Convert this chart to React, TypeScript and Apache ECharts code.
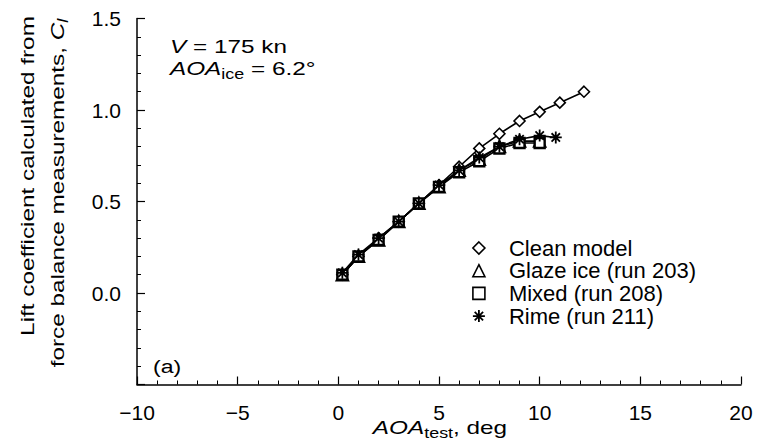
import React, { useEffect, useRef } from "react";
import * as echarts from "echarts";

const seriesNames = ["Clean model", "Glaze ice (run 203)", "Mixed (run 208)", "Rime (run 211)"];
const cleanX = [0.2, 1, 2, 3, 4, 5, 6, 7, 8, 9, 10, 11, 12.2];
const cleanY = [0.1, 0.2, 0.3, 0.39, 0.49, 0.59, 0.69, 0.79, 0.87, 0.94, 0.99, 1.04, 1.1];
const glazeX = [0.2, 1, 2, 3, 4, 5, 6, 7, 8, 9, 10];
const glazeY = [0.1, 0.2, 0.29, 0.39, 0.49, 0.58, 0.67, 0.73, 0.8, 0.83, 0.83];
const mixedX = [0.2, 1, 2, 3, 4, 5, 6, 7, 8, 9, 10];
const mixedY = [0.1, 0.2, 0.29, 0.39, 0.49, 0.58, 0.66, 0.72, 0.79, 0.82, 0.82];
const rimeX = [0.2, 1, 2, 3, 4, 5, 6, 7, 8, 9, 10, 10.8];
const rimeY = [0.11, 0.21, 0.3, 0.39, 0.49, 0.59, 0.67, 0.74, 0.8, 0.84, 0.86, 0.85];

const FONT = '"Liberation Sans", Arial, Helvetica, sans-serif';
const ASTERISK = "path://M6,0L6,12M0,6L12,6M1.8,1.8L10.2,10.2M1.8,10.2L10.2,1.8";
const SX = 1.28;

const pairs = (xs: number[], ys: number[]) => xs.map((x, i) => [x, ys[i]]);

export default function App() {
  const ref = useRef<HTMLDivElement>(null);
  useEffect(() => {
    const chart = echarts.init(ref.current!, null, { renderer: "svg" });
    const open = { color: "#fff", borderColor: "#000", borderWidth: 1.6 };
    const openIce = { color: "#fff", borderColor: "#000", borderWidth: 2.4 };
    const star = { color: "#000", borderColor: "#000", borderWidth: 1.8 };
    const line = { color: "#000", width: 1.6 };
    const mkSeries = (name: string, xs: number[], ys: number[], symbol: string, size: number, z: number, style: any) => ({
      type: "line",
      name,
      data: pairs(xs, ys),
      symbol,
      symbolSize: size,
      itemStyle: style,
      lineStyle: line,
      z,
      emphasis: { disabled: true },
    });
    const rich = (fs: number) => ({
      n: { fontSize: fs, fontFamily: FONT, lineHeight: 22, fill: "#000" },
      i: { fontSize: fs, fontFamily: FONT, fontStyle: "italic", lineHeight: 22, fill: "#000" },
      s: { fontSize: Math.round(fs * 0.72), fontFamily: FONT, lineHeight: 22, padding: [11, 0, 0, 0], fill: "#000" },
      si: { fontSize: Math.round(fs * 0.72), fontFamily: FONT, fontStyle: "italic", lineHeight: 22, padding: [11, 0, 0, 0], fill: "#000" },
    });
    const option: any = {
      animation: false,
      grid: { left: 137, top: 18.5, right: 17, bottom: 57.5 },
      xAxis: {
        type: "value",
        min: -10,
        max: 20,
        interval: 5,
        axisLine: { onZero: false, lineStyle: { color: "#000", width: 1.5 } },
        axisTick: { inside: true, length: 8, lineStyle: { color: "#000", width: 1.2 } },
        minorTick: { show: true, splitNumber: 5, length: 4, lineStyle: { color: "#000", width: 1 } },
        splitLine: { show: false },
        axisLabel: {
          fontSize: 21,
          fontFamily: FONT,
          color: "#000",
          margin: 17,
          formatter: (v: number) => String(v).replace("-", "\u2212"),
        },
      },
      yAxis: {
        type: "value",
        min: -0.5,
        max: 1.5,
        interval: 0.5,
        axisLine: { show: true, onZero: false, lineStyle: { color: "#000", width: 1.5 } },
        axisTick: { show: true, inside: true, length: 8, lineStyle: { color: "#000", width: 1.2 } },
        minorTick: { show: true, splitNumber: 5, length: 4, lineStyle: { color: "#000", width: 1 } },
        splitLine: { show: false },
        axisLabel: {
          fontSize: 21,
          fontFamily: FONT,
          color: "#000",
          margin: 16,
          formatter: (v: number) => (v < -0.01 ? "" : v.toFixed(1)),
        },
      },
      legend: {
        orient: "vertical",
        left: 467,
        top: 232,
        itemWidth: 12,
        itemHeight: 12,
        itemGap: 0.7,
        selectedMode: false,
        textStyle: { fontSize: 22, lineHeight: 20, fontFamily: FONT, color: "#000", padding: [0, 0, 0, 19] },
        data: [
          { name: seriesNames[0], icon: "diamond", itemStyle: open },
          { name: seriesNames[1], icon: "triangle", itemStyle: open },
          { name: seriesNames[2], icon: "rect", itemStyle: open },
          { name: seriesNames[3], icon: ASTERISK, itemStyle: star },
        ],
      },
      series: [
        mkSeries(seriesNames[0], cleanX, cleanY, "diamond", 11, 2, open),
        mkSeries(seriesNames[1], glazeX, glazeY, "triangle", 11, 3, openIce),
        mkSeries(seriesNames[2], mixedX, mixedY, "rect", 10, 4, openIce),
        mkSeries(seriesNames[3], rimeX, rimeY, ASTERISK, 12, 5, star),
      ],
      graphic: [
        {
          type: "text",
          x: 27,
          y: 176,
          rotation: Math.PI / 2,
          scaleX: SX,
          style: {
            text: "Lift coefficient calculated from",
            fontSize: 19,
            fontFamily: FONT,
            fill: "#000",
            align: "center",
            verticalAlign: "middle",
          },
        },
        {
          type: "text",
          x: 57,
          y: 193,
          rotation: Math.PI / 2,
          scaleX: SX,
          style: {
            text: "{n|force balance measurements, }{i|C}{si|l}",
            fill: "#000",
            align: "center",
            verticalAlign: "middle",
            rich: rich(19),
          },
        },
        {
          type: "text",
          x: 170,
          y: 46,
          scaleX: SX,
          style: {
            text: "{i|V}{n| = 175 kn}",
            fill: "#000",
            align: "left",
            verticalAlign: "middle",
            rich: rich(19),
          },
        },
        {
          type: "text",
          x: 170,
          y: 68,
          scaleX: SX,
          style: {
            text: "{i|AOA}{s|ice}{n| = 6.2\u00b0}",
            fill: "#000",
            align: "left",
            verticalAlign: "middle",
            rich: rich(19),
          },
        },
        {
          type: "text",
          x: 153,
          y: 366,
          scaleX: SX,
          style: {
            text: "(a)",
            fontSize: 18,
            fontFamily: FONT,
            fill: "#000",
            align: "left",
            verticalAlign: "middle",
          },
        },
        {
          type: "text",
          x: 440,
          y: 427,
          scaleX: SX,
          style: {
            text: "{i|AOA}{s|test}{n|, deg}",
            fill: "#000",
            align: "center",
            verticalAlign: "middle",
            rich: rich(19),
          },
        },
      ],
    };
    chart.setOption(option);
    return () => chart.dispose();
  }, []);
  return <div ref={ref} style={{ position: "fixed", left: 0, top: 0, width: 758, height: 442, background: "#fff" }} />;
}
